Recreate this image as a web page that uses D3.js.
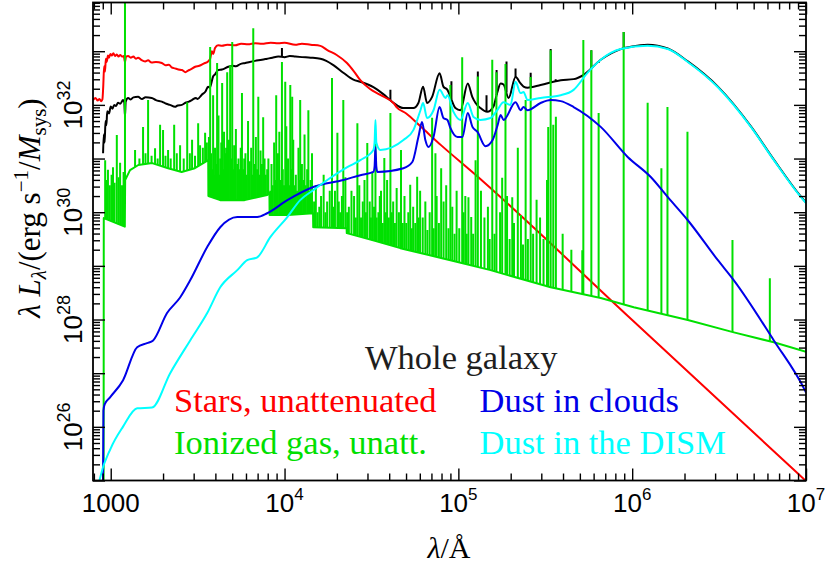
<!DOCTYPE html>
<html><head><meta charset="utf-8">
<script src="https://cdn.jsdelivr.net/npm/d3@7"></script>
<style>body{margin:0;background:#fff}svg{display:block}</style>
</head><body><svg id="c" width="830" height="570"></svg>
<script>
// All spectra as [log10(lambda / Angstrom), log10(lambda L_lambda / (erg s^-1 / M_sys))]
const stars = [[2.898,32.09],[2.912,32.13],[2.925,32.08],[2.935,32.11],[2.945,32.07],[2.952,32.10],[2.957,32.35],[2.962,32.72],[2.967,32.62],[2.972,32.86],[2.977,32.80],[2.984,32.92],[2.99,32.88],[2.998,32.95],[3.006,32.92],[3.015,32.96],[3.025,32.91],[3.035,32.94],[3.045,32.90],[3.055,32.93],[3.065,32.90],[3.075,32.91],[3.082,32.80],[3.088,32.90],[3.10,32.91],[3.115,32.88],[3.13,32.90],[3.145,32.86],[3.157,32.88],[3.175,32.84],[3.198,32.81],[3.215,32.83],[3.235,32.79],[3.26,32.80],[3.294,32.78],[3.315,32.74],[3.335,32.75],[3.35,32.70],[3.37,32.68],[3.39,32.66],[3.41,32.65],[3.43,32.61],[3.445,32.64],[3.46,32.66],[3.486,32.71],[3.51,32.73],[3.535,32.77],[3.56,32.81],[3.572,32.86],[3.582,33.00],[3.59,32.95],[3.60,33.06],[3.618,33.11],[3.64,33.10],[3.67,33.12],[3.716,33.11],[3.75,33.14],[3.79,33.13],[3.831,33.15],[3.87,33.14],[3.92,33.16],[3.964,33.15],[4.0,33.16],[4.062,33.12],[4.10,33.14],[4.15,33.12],[4.206,33.10],[4.246,33.02],[4.30,32.93],[4.359,32.78],[4.40,32.62],[4.436,32.46],[4.49,32.30],[4.551,32.185],[4.628,32.03],[4.647,31.95],[4.70,31.84],[4.782,31.60],[4.90,31.25],[5.087,30.73],[6.0,27.99],[7.0,24.99]];

const total = [[2.956,31.10],[2.96,31.45],[2.965,31.30],[2.97,31.70],[2.975,31.62],[2.98,31.88],[2.99,31.84],[3.0,31.97],[3.01,31.93],[3.02,32.0],[3.03,31.98],[3.042,32.04],[3.055,32.02],[3.071,32.09],[3.078,32.05],[3.082,31.78],[3.086,32.06],[3.10,32.13],[3.115,32.10],[3.13,32.14],[3.157,32.15],[3.18,32.11],[3.20,32.14],[3.236,32.13],[3.26,32.09],[3.294,32.06],[3.32,32.02],[3.34,32.0],[3.37,31.965],[3.385,31.99],[3.409,32.0],[3.43,32.04],[3.45,32.06],[3.467,32.09],[3.49,32.13],[3.50,32.11],[3.524,32.19],[3.545,32.25],[3.56,32.34],[3.57,32.32],[3.589,32.53],[3.60,32.57],[3.618,32.65],[3.64,32.66],[3.676,32.71],[3.70,32.73],[3.72,32.72],[3.745,32.76],[3.774,32.78],[3.80,32.80],[3.83,32.82],[3.87,32.84],[3.90,32.86],[3.93,32.88],[3.964,32.90],[4.0,32.89],[4.03,32.91],[4.062,32.90],[4.10,32.89],[4.15,32.88],[4.206,32.86],[4.24,32.82],[4.281,32.74],[4.338,32.60],[4.396,32.47],[4.436,32.43],[4.511,32.33],[4.568,32.20],[4.626,32.04],[4.684,31.94],[4.741,31.94],[4.77,32.035],[4.797,32.34],[4.82,32.035],[4.849,32.15],[4.892,32.59],[4.914,32.34],[4.937,32.28],[4.954,32.15],[4.983,31.94],[5.012,31.90],[5.054,32.40],[5.08,32.15],[5.099,32.035],[5.127,31.94],[5.166,31.87],[5.202,31.97],[5.223,32.22],[5.243,32.40],[5.26,32.38],[5.289,32.13],[5.329,32.52],[5.358,32.40],[5.375,32.34],[5.398,32.32],[5.473,32.37],[5.589,32.46],[5.663,32.48],[5.721,32.56],[5.819,32.84],[5.934,33.04],[6.0,33.09],[6.089,33.12],[6.205,33.05],[6.32,32.81],[6.493,32.34],[6.683,31.60],[6.815,30.98],[6.971,30.29],[7.0,30.18]];

const totalLines = [[3.985,33.06],[4.609,32.28],[4.96,32.44],[5.112,32.62],[5.162,32.18],[5.22,32.65],[5.277,32.81],[5.329,32.68],[5.416,32.60],[5.531,33.04],[5.56,32.48],[5.765,33.02],[5.807,32.78],[5.951,33.36],[6.089,33.13]];

const gasContinuum = [[2.898,24.5],[2.959,24.5],[2.960,29.89],[3.081,29.73],[3.083,30.60],[3.111,30.785],[3.159,30.88],[3.238,30.915],[3.33,30.82],[3.408,30.75],[3.484,30.82],[3.561,30.97],[3.562,30.30],[3.63,30.225],[3.77,30.225],[3.90,30.32],[3.913,30.36],[3.914,29.95],[4.02,29.95],[4.164,29.98],[4.165,29.72],[4.357,29.70],[4.358,29.61],[4.515,29.47],[4.666,29.33],[4.954,29.105],[5.185,28.92],[5.531,28.60],[5.819,28.40],[6.009,28.23],[6.32,27.99],[6.585,27.76],[6.815,27.575],[7.0,27.40]];

const gasLines = [[3.082,34.2],[2.968,30.97],[2.975,30.6],[2.984,30.79],[2.995,30.5],[3.005,30.7],[3.013,30.84],[3.022,30.55],[3.035,31.44],[3.045,30.65],[3.054,30.92],[3.065,30.5],[3.074,30.75],
[3.14,31.16],[3.165,31.0],[3.186,31.59],[3.2,31.1],[3.215,32.09],[3.235,31.05],[3.255,31.19],[3.27,31.0],[3.284,31.63],[3.301,31.53],[3.315,31.05],[3.33,31.16],[3.345,31.0],[3.365,31.63],[3.38,31.1],[3.399,31.25],[3.42,31.0],[3.44,32.05],[3.455,31.1],[3.468,31.35],[3.485,31.05],[3.503,31.66],[3.514,31.25],[3.53,31.2],[3.543,31.48],[3.553,31.3],
[3.565,31.4],[3.572,33.08],[3.578,31.1],[3.583,30.8],[3.589,32.18],[3.595,30.7],[3.600,31.2],[3.606,30.9],[3.612,32.78],[3.62,31.8],[3.625,30.7],[3.63,31.0],[3.636,31.3],[3.641,32.41],[3.647,30.8],[3.652,31.5],[3.658,31.1],[3.664,31.2],[3.670,32.61],[3.675,30.9],[3.68,31.35],[3.687,32.74],[3.693,31.0],[3.699,33.17],[3.705,30.8],[3.71,31.25],[3.715,30.7],[3.72,31.55],[3.728,30.9],[3.735,31.0],[3.742,30.8],[3.748,31.2],[3.755,32.22],[3.762,30.8],[3.768,31.0],[3.775,31.1],[3.782,30.7],[3.79,31.7],[3.795,30.9],[3.80,30.95],[3.808,31.2],[3.813,30.7],[3.820,33.43],[3.828,30.9],[3.835,31.4],[3.842,30.8],[3.849,32.15],[3.856,30.7],[3.862,31.15],[3.87,30.9],[3.877,31.77],[3.885,31.0],[3.892,30.7],[3.90,30.8],[3.907,31.0],
[3.918,30.4],[3.925,30.9],[3.932,30.5],[3.94,31.3],[3.946,30.6],[3.952,32.18],[3.957,30.7],[3.962,31.1],[3.97,31.5],[3.978,30.6],[3.985,32.80],[3.99,30.8],[3.997,30.5],[4.004,32.43],[4.01,31.6],[4.015,30.6],[4.02,31.0],[4.027,30.5],[4.033,32.37],[4.038,30.8],[4.044,32.15],[4.05,31.35],[4.057,30.5],[4.065,30.7],[4.072,30.4],[4.08,31.2],[4.085,30.6],[4.090,32.09],[4.096,30.5],[4.10,30.9],[4.108,30.6],[4.115,31.45],[4.122,30.5],[4.13,30.8],[4.137,31.90],[4.143,30.4],[4.15,30.6],[4.158,31.1],
[4.17,30.2],[4.18,30.5],[4.19,30.0],[4.20,30.1],[4.21,30.3],[4.225,30.7],[4.235,30.0],[4.245,30.2],[4.26,30.4],[4.273,32.50],[4.28,30.1],[4.29,30.4],[4.304,31.48],[4.312,30.2],[4.32,30.0],[4.33,30.3],[4.338,32.09],[4.35,30.65],[4.36,30.0],[4.37,30.1],[4.385,30.4],[4.40,30.3],[4.41,29.9],[4.419,31.66],[4.43,30.5],[4.44,29.9],[4.45,30.2],[4.46,30.6],[4.468,30.0],[4.476,31.29],[4.49,30.2],[4.497,29.9],[4.505,30.75],[4.515,30.1],[4.523,31.29],[4.53,29.9],[4.54,30.0],[4.548,30.3],[4.555,30.4],[4.565,29.8],[4.574,31.01],[4.582,30.0],[4.59,30.6],[4.6,29.9],[4.609,31.85],[4.617,30.0],[4.625,30.2],[4.635,29.8],[4.645,30.45],[4.658,30.0],[4.670,31.16],[4.68,29.8],[4.69,30.3],[4.70,29.8],[4.712,30.0],[4.723,30.51],[4.732,29.7],[4.74,30.1],[4.752,29.8],[4.763,30.66],[4.772,29.9],[4.78,30.4],[4.795,29.9],[4.81,30.2],[4.822,29.67],[4.835,30.0],[4.849,31.76],[4.858,29.7],[4.868,31.10],[4.875,30.3],[4.888,29.8],[4.901,30.82],[4.915,30.2],[4.93,30.5],[4.943,29.7],[4.954,32.37],[4.965,30.1],[4.978,29.6],[4.99,30.4],[5.005,29.7],[5.022,32.89],[5.03,30.0],[5.04,30.3],[5.048,29.6],[5.058,30.28],[5.074,29.91],[5.085,29.6],[5.099,30.97],[5.112,32.53],[5.13,30.4],[5.15,29.9],[5.17,30.1],[5.18,29.5],[5.195,32.84],[5.208,29.6],[5.219,32.61],[5.24,30.0],[5.252,30.64],[5.271,32.76],[5.28,30.3],[5.295,29.5],[5.31,30.28],[5.32,29.8],[5.342,31.20],[5.36,29.95],[5.372,29.4],[5.387,32.09],[5.4,29.5],[5.416,32.52],[5.43,29.6],[5.45,30.23],[5.47,29.9],[5.49,29.5],[5.51,30.6],[5.517,31.59],[5.531,33.02],[5.546,31.63],[5.561,31.78],[5.60,29.6],[5.65,29.3],[5.713,29.29],[5.719,33.21],[5.765,33.02],[5.807,31.85],[5.951,33.36],[6.089,32.04],[6.168,30.82],[6.203,31.96],[6.318,31.50],[6.577,29.48],[6.792,28.77]];

const dustClouds = [[2.955,24.5],[2.958,26.3],[2.965,26.42],[2.996,26.55],[3.071,26.87],[3.152,27.485],[3.209,27.56],[3.244,27.61],[3.324,28.12],[3.399,28.41],[3.457,28.73],[3.555,29.35],[3.630,29.72],[3.728,29.91],[3.843,29.91],[3.90,29.98],[4.016,30.225],[4.165,30.47],[4.338,30.60],[4.436,30.69],[4.511,30.75],[4.518,30.85],[4.523,31.215],[4.528,30.85],[4.534,30.75],[4.684,30.82],[4.735,30.935],[4.77,31.40],[4.791,31.68],[4.81,31.345],[4.828,31.215],[4.857,31.40],[4.892,31.96],[4.914,31.755],[4.937,31.72],[4.954,31.57],[4.995,31.40],[5.023,31.40],[5.054,31.85],[5.081,31.59],[5.110,31.495],[5.156,31.23],[5.197,31.345],[5.226,31.625],[5.243,31.81],[5.26,31.72],[5.329,32.05],[5.358,31.90],[5.375,31.96],[5.398,31.90],[5.473,32.035],[5.531,32.09],[5.589,32.07],[5.663,31.96],[5.819,31.59],[5.974,31.03],[6.107,30.655],[6.205,30.28],[6.320,29.85],[6.493,29.105],[6.585,28.73],[6.815,27.61],[6.994,26.68],[7.0,26.64]];

const dustDISM = [[2.90,24.3],[2.938,25.04],[3.0,25.6],[3.07,26.0],[3.152,26.345],[3.238,26.36],[3.342,27.00],[3.457,27.61],[3.555,28.12],[3.630,28.60],[3.728,28.92],[3.785,29.105],[3.843,29.16],[3.918,29.535],[4.016,29.91],[4.090,30.225],[4.165,30.41],[4.246,30.60],[4.361,30.84],[4.436,30.97],[4.511,31.16],[4.518,31.3],[4.523,31.72],[4.528,31.3],[4.551,31.16],[4.684,31.345],[4.741,31.53],[4.782,31.90],[4.797,32.035],[4.82,31.755],[4.857,31.90],[4.892,32.28],[4.926,32.13],[4.937,32.18],[4.972,31.87],[5.012,31.72],[5.054,32.035],[5.087,31.775],[5.127,31.72],[5.185,31.755],[5.223,31.90],[5.26,32.05],[5.30,32.00],[5.329,32.43],[5.358,32.22],[5.375,32.24],[5.398,32.09],[5.473,32.13],[5.589,32.18],[5.663,32.28],[5.744,32.60],[5.819,32.84],[5.934,33.04],[6.089,33.10],[6.205,33.04],[6.320,32.80],[6.493,32.33],[6.683,31.59],[6.815,30.97],[6.971,30.28],[7.0,30.17]];

const xMajorTicks = [1e3,1e4,1e5,1e6,1e7];
const xTickLabels = [["1000",""],["10","4"],["10","5"],["10","6"],["10","7"]];
const yMajorTicks = [1e25,1e26,1e27,1e28,1e29,1e30,1e31,1e32,1e33];
const yLabelTicks = [1e26,1e28,1e30,1e32];
const yTickLabels = [["10","26"],["10","28"],["10","30"],["10","32"]];
const legendItems = [
  {text:"Whole galaxy", color:"#1e1e1e"},
  {text:"Stars, unattenuated", color:"#ff0000"},
  {text:"Ionized gas, unatt.", color:"#00e000"},
  {text:"Dust in clouds", color:"#0000e8"},
  {text:"Dust in the DISM", color:"#00ffff"}
];

const P = {left:93, right:806, top:2.5, bottom:480.5};
const svg = d3.select("#c");
const x = d3.scaleLog().domain([10**2.898, 1e7]).range([P.left, P.right]);
const y = d3.scaleLog().domain([1e25, 10**33.908]).range([P.bottom, P.top]);

svg.append("defs").append("clipPath").attr("id","clip").append("rect")
  .attr("x",P.left).attr("y",P.top).attr("width",P.right-P.left).attr("height",P.bottom-P.top);

const lineSmooth = d3.line().x(d=>x(10**d[0])).y(d=>y(10**d[1])).curve(d3.curveMonotoneX);
const lineStep = d3.line().x(d=>x(10**d[0])).y(d=>y(10**d[1]));
function interp(arr, lx){
  const i = d3.bisector(d=>d[0]).left(arr, lx);
  if(i<=0) return arr[0][1];
  if(i>=arr.length) return arr[arr.length-1][1];
  const a=arr[i-1], b=arr[i];
  return a[1] + (b[1]-a[1])*(lx-a[0])/(b[0]-a[0]);
}
const g = svg.append("g").attr("clip-path","url(#clip)");
function curve(data, color, gen){
  g.append("path").datum(data).attr("d",gen).attr("fill","none").attr("stroke",color)
   .attr("stroke-width",2).attr("stroke-linejoin","round");
}
function spikes(lines, base, color){
  g.append("g").selectAll("line").data(lines).join("line")
   .attr("x1",d=>x(10**d[0])).attr("x2",d=>x(10**d[0]))
   .attr("y1",d=>y(10**interp(base,d[0]))).attr("y2",d=>y(10**d[1]))
   .attr("stroke",color).attr("stroke-width",2);
}
curve(total,"#000",lineSmooth);
spikes(totalLines,total,"#000");
curve(stars,"#ff0000",lineSmooth);
curve(gasContinuum,"#00e000",lineStep);
spikes(gasLines,gasContinuum,"#00e000");
curve(dustClouds,"#0000e8",lineSmooth);
curve(dustDISM,"#00ffff",lineSmooth);

// axes
const xMinor=[]; for(let d=2; d<=6; d++) for(let m=2;m<=9;m++){const v=m*10**d; if(v>=x.domain()[0] && v<=1e7) xMinor.push(v);}
const yMinor=[]; for(let d=25; d<=33; d++) for(let m=2;m<=9;m++){const v=m*10**d; if(v<=y.domain()[1]) yMinor.push(v);}
function ax(gen, tr, vals, size){
  const a = svg.append("g").attr("transform",tr).call(gen.tickValues(vals).tickSize(size).tickFormat(""));
  a.select(".domain").remove();
  a.selectAll("line").attr("stroke","#000").attr("stroke-width",1.4);
}
ax(d3.axisBottom(x), `translate(0,${P.bottom})`, xMajorTicks, -12);
ax(d3.axisBottom(x), `translate(0,${P.bottom})`, xMinor, -7);
ax(d3.axisTop(x), `translate(0,${P.top})`, xMajorTicks, -12);
ax(d3.axisTop(x), `translate(0,${P.top})`, xMinor, -7);
ax(d3.axisLeft(y), `translate(${P.left},0)`, yMajorTicks, -12);
ax(d3.axisLeft(y), `translate(${P.left},0)`, yMinor, -7);
ax(d3.axisRight(y), `translate(${P.right},0)`, yMajorTicks, -12);
ax(d3.axisRight(y), `translate(${P.right},0)`, yMinor, -7);
svg.append("rect").attr("x",P.left).attr("y",P.top).attr("width",P.right-P.left).attr("height",P.bottom-P.top)
  .attr("fill","none").attr("stroke","#000").attr("stroke-width",1.8);

// tick labels
const tickFont = "'Liberation Sans', Arial, Helvetica, sans-serif";
xMajorTicks.forEach((v,i)=>{
  const t = svg.append("text").attr("x",x(v)).attr("y",511.5).attr("text-anchor","middle")
    .attr("font-family",tickFont).attr("font-size",26).attr("fill","#000");
  t.append("tspan").text(xTickLabels[i][0]);
  if(xTickLabels[i][1]) t.append("tspan").attr("dy",-12).attr("font-size",17).text(xTickLabels[i][1]);
});
yLabelTicks.forEach((v,i)=>{
  const t = svg.append("text").attr("transform",`translate(82,${y(v)}) rotate(-90)`).attr("text-anchor","middle")
    .attr("font-family",tickFont).attr("font-size",26).attr("fill","#000");
  t.append("tspan").text(yTickLabels[i][0]);
  t.append("tspan").attr("dy",-12).attr("font-size",18).text(yTickLabels[i][1]);
});

// axis titles
const serif = "'Liberation Serif','Times New Roman',Times,'DejaVu Serif',serif";
const xt = svg.append("text").attr("x",449).attr("y",558).attr("text-anchor","middle")
  .attr("font-family",serif).attr("font-size",30).attr("fill","#000");
xt.append("tspan").attr("font-style","italic").text("λ");
xt.append("tspan").text("/Å");

const yt = svg.append("text").attr("transform","translate(40,208) rotate(-90)").attr("text-anchor","middle")
  .attr("font-family",serif).attr("font-size",31).attr("fill","#000");
yt.append("tspan").attr("font-style","italic").text("λ ");
yt.append("tspan").attr("font-style","italic").text("L");
yt.append("tspan").attr("font-style","italic").attr("font-size",21).attr("dy",6).text("λ");
yt.append("tspan").attr("dy",-6).text("/(erg s");
yt.append("tspan").attr("font-size",21).attr("dy",-12).text("−1");
yt.append("tspan").attr("dy",12).text("/");
yt.append("tspan").attr("font-style","italic").text("M");
yt.append("tspan").attr("font-size",21).attr("dy",6).text("sys");
yt.append("tspan").attr("dy",-6).text(")");

// legend
const legendPos = [[365,369],[174,412],[174,453.5],[479.5,412],[479.5,453.5]];
legendItems.forEach((it,i)=>{
  svg.append("text").attr("x",legendPos[i][0]).attr("y",legendPos[i][1])
    .attr("font-family",serif).attr("font-size",34.5).attr("fill",it.color).text(it.text);
});
</script></body></html>
